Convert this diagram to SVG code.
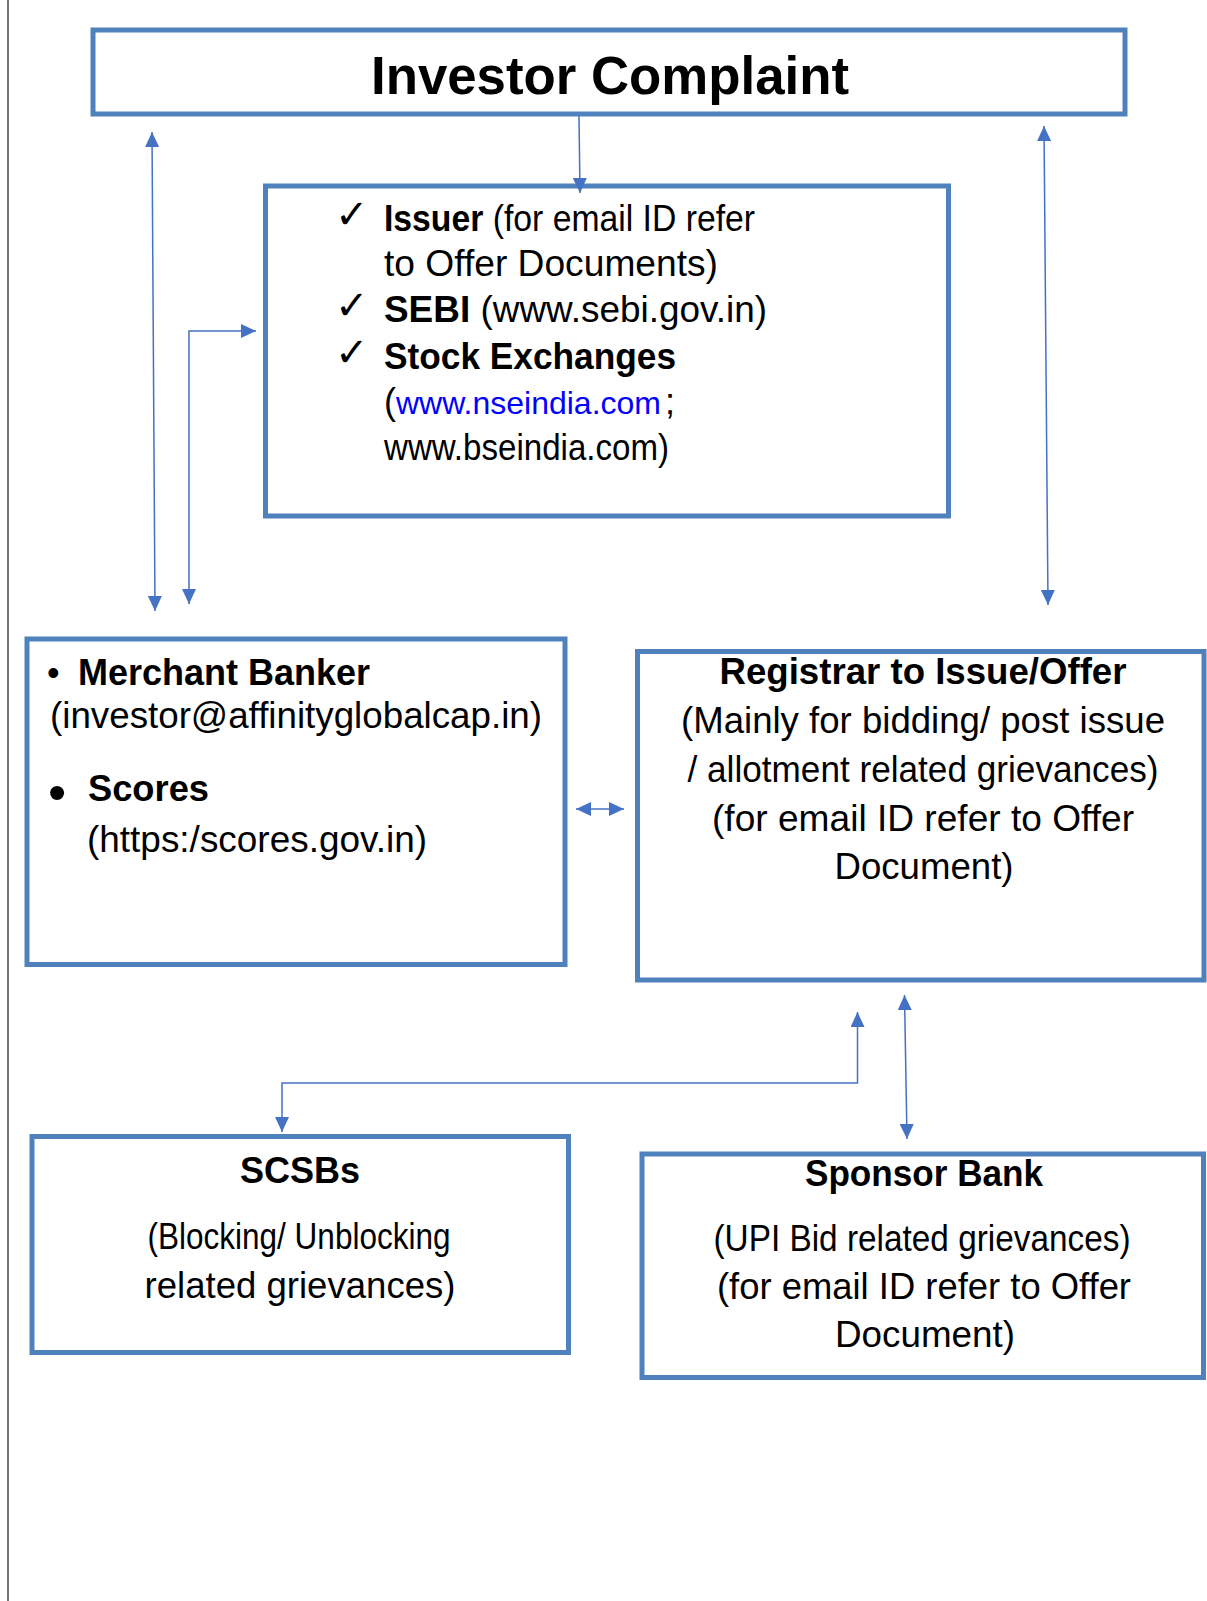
<svg xmlns="http://www.w3.org/2000/svg" width="1207" height="1601" viewBox="0 0 1207 1601">
<style>
.box{fill:#fff;stroke:#4f81bd;stroke-width:5}
.t{font-family:"Liberation Sans",Arial,sans-serif;font-size:36px;fill:#000}
.b{font-weight:bold}
.c{text-anchor:middle}
.chk{font-family:"DejaVu Sans",sans-serif;font-size:40px;font-weight:200;fill:#000}
.con{fill:none;stroke:#4472c4;stroke-width:1.5}
.link{fill:#0000ff}
</style>
<defs>
<marker id="ah" markerUnits="userSpaceOnUse" markerWidth="16" markerHeight="14" refX="15" refY="7" orient="auto-start-reverse">
<path d="M0,0 L15,7 L0,14 z" fill="#4472c4"/>
</marker>
</defs>
<rect width="1207" height="1601" fill="#fff"/>
<line x1="8" y1="0" x2="8" y2="1601" stroke="#444" stroke-width="1.5"/>

<g id="investor-complaint">
<rect class="box" x="93" y="30" width="1032" height="84"/>
<text class="t b c" x="610" y="94" style="font-size:53px" textLength="478" lengthAdjust="spacingAndGlyphs">Investor Complaint</text>
</g>

<g id="issuer-sebi-exchanges">
<rect class="box" x="265.5" y="186" width="683" height="330"/>
<text class="chk" x="335" y="228">✓</text>
<text class="chk" x="335" y="319">✓</text>
<text class="chk" x="335" y="366">✓</text>
<text class="t" x="384" y="231" textLength="371" lengthAdjust="spacingAndGlyphs"><tspan class="b">Issuer</tspan> (for email ID refer</text>
<text class="t" x="384" y="276" textLength="334" lengthAdjust="spacingAndGlyphs">to Offer Documents)</text>
<text class="t" x="384" y="322" textLength="383" lengthAdjust="spacingAndGlyphs"><tspan class="b">SEBI</tspan> (www.sebi.gov.in)</text>
<text class="t b" x="384" y="369" textLength="292" lengthAdjust="spacingAndGlyphs">Stock Exchanges</text>
<text class="t" x="384" y="414">(</text>
<text class="t link" x="396" y="414" style="font-size:32px">www.nseindia.com</text>
<text class="t" x="665" y="414">;</text>
<text class="t" x="384" y="460" textLength="285" lengthAdjust="spacingAndGlyphs">www.bseindia.com)</text>
</g>

<g id="merchant-banker-scores">
<rect class="box" x="27" y="639" width="538" height="325.5"/>
<text class="t" x="47" y="685">•</text>
<text class="t b" x="78" y="685" textLength="292" lengthAdjust="spacingAndGlyphs">Merchant Banker</text>
<text class="t" x="50" y="728" textLength="492" lengthAdjust="spacingAndGlyphs">(investor@affinityglobalcap.in)</text>
<text class="t" x="48" y="810" style="font-size:52px">•</text>
<text class="t b" x="88" y="801" textLength="121" lengthAdjust="spacingAndGlyphs">Scores</text>
<text class="t" x="87" y="852" textLength="340" lengthAdjust="spacingAndGlyphs">(https:/scores.gov.in)</text>
</g>

<g id="registrar">
<rect class="box" x="637.5" y="651.5" width="566.5" height="328.5"/>
<text class="t b c" x="923" y="684" textLength="407" lengthAdjust="spacingAndGlyphs">Registrar to Issue/Offer</text>
<text class="t c" x="923" y="733" textLength="484" lengthAdjust="spacingAndGlyphs">(Mainly for bidding/ post issue</text>
<text class="t c" x="923" y="782" textLength="471" lengthAdjust="spacingAndGlyphs">/ allotment related grievances)</text>
<text class="t c" x="923" y="831" textLength="422" lengthAdjust="spacingAndGlyphs">(for email ID refer to Offer</text>
<text class="t c" x="924" y="879" textLength="179" lengthAdjust="spacingAndGlyphs">Document)</text>
</g>

<g id="scsbs">
<rect class="box" x="32" y="1136.5" width="536.5" height="216"/>
<text class="t b c" x="300" y="1183" textLength="120" lengthAdjust="spacingAndGlyphs">SCSBs</text>
<text class="t c" x="299" y="1249" textLength="303" lengthAdjust="spacingAndGlyphs">(Blocking/ Unblocking</text>
<text class="t c" x="300" y="1298" textLength="311" lengthAdjust="spacingAndGlyphs">related grievances)</text>
</g>

<g id="sponsor-bank">
<rect class="box" x="642" y="1154" width="561.5" height="223.5"/>
<text class="t b c" x="924" y="1186" textLength="238" lengthAdjust="spacingAndGlyphs">Sponsor Bank</text>
<text class="t c" x="922" y="1251" textLength="417" lengthAdjust="spacingAndGlyphs">(UPI Bid related grievances)</text>
<text class="t c" x="924" y="1299" textLength="414" lengthAdjust="spacingAndGlyphs">(for email ID refer to Offer</text>
<text class="t c" x="925" y="1347" textLength="180" lengthAdjust="spacingAndGlyphs">Document)</text>
</g>

<g id="connectors">
<path class="con" d="M579,116 L580,193" marker-end="url(#ah)"/>
<path class="con" d="M152,132 L155,611" marker-start="url(#ah)" marker-end="url(#ah)"/>
<path class="con" d="M256,331 H189 V604" marker-start="url(#ah)" marker-end="url(#ah)"/>
<path class="con" d="M1044,126 L1048,605" marker-start="url(#ah)" marker-end="url(#ah)"/>
<path class="con" d="M576,809 L624,809" marker-start="url(#ah)" marker-end="url(#ah)"/>
<path class="con" d="M857.5,1012 V1083 H282 V1132" marker-start="url(#ah)" marker-end="url(#ah)"/>
<path class="con" d="M904.5,995 L907,1139" marker-start="url(#ah)" marker-end="url(#ah)"/>
</g>
</svg>
